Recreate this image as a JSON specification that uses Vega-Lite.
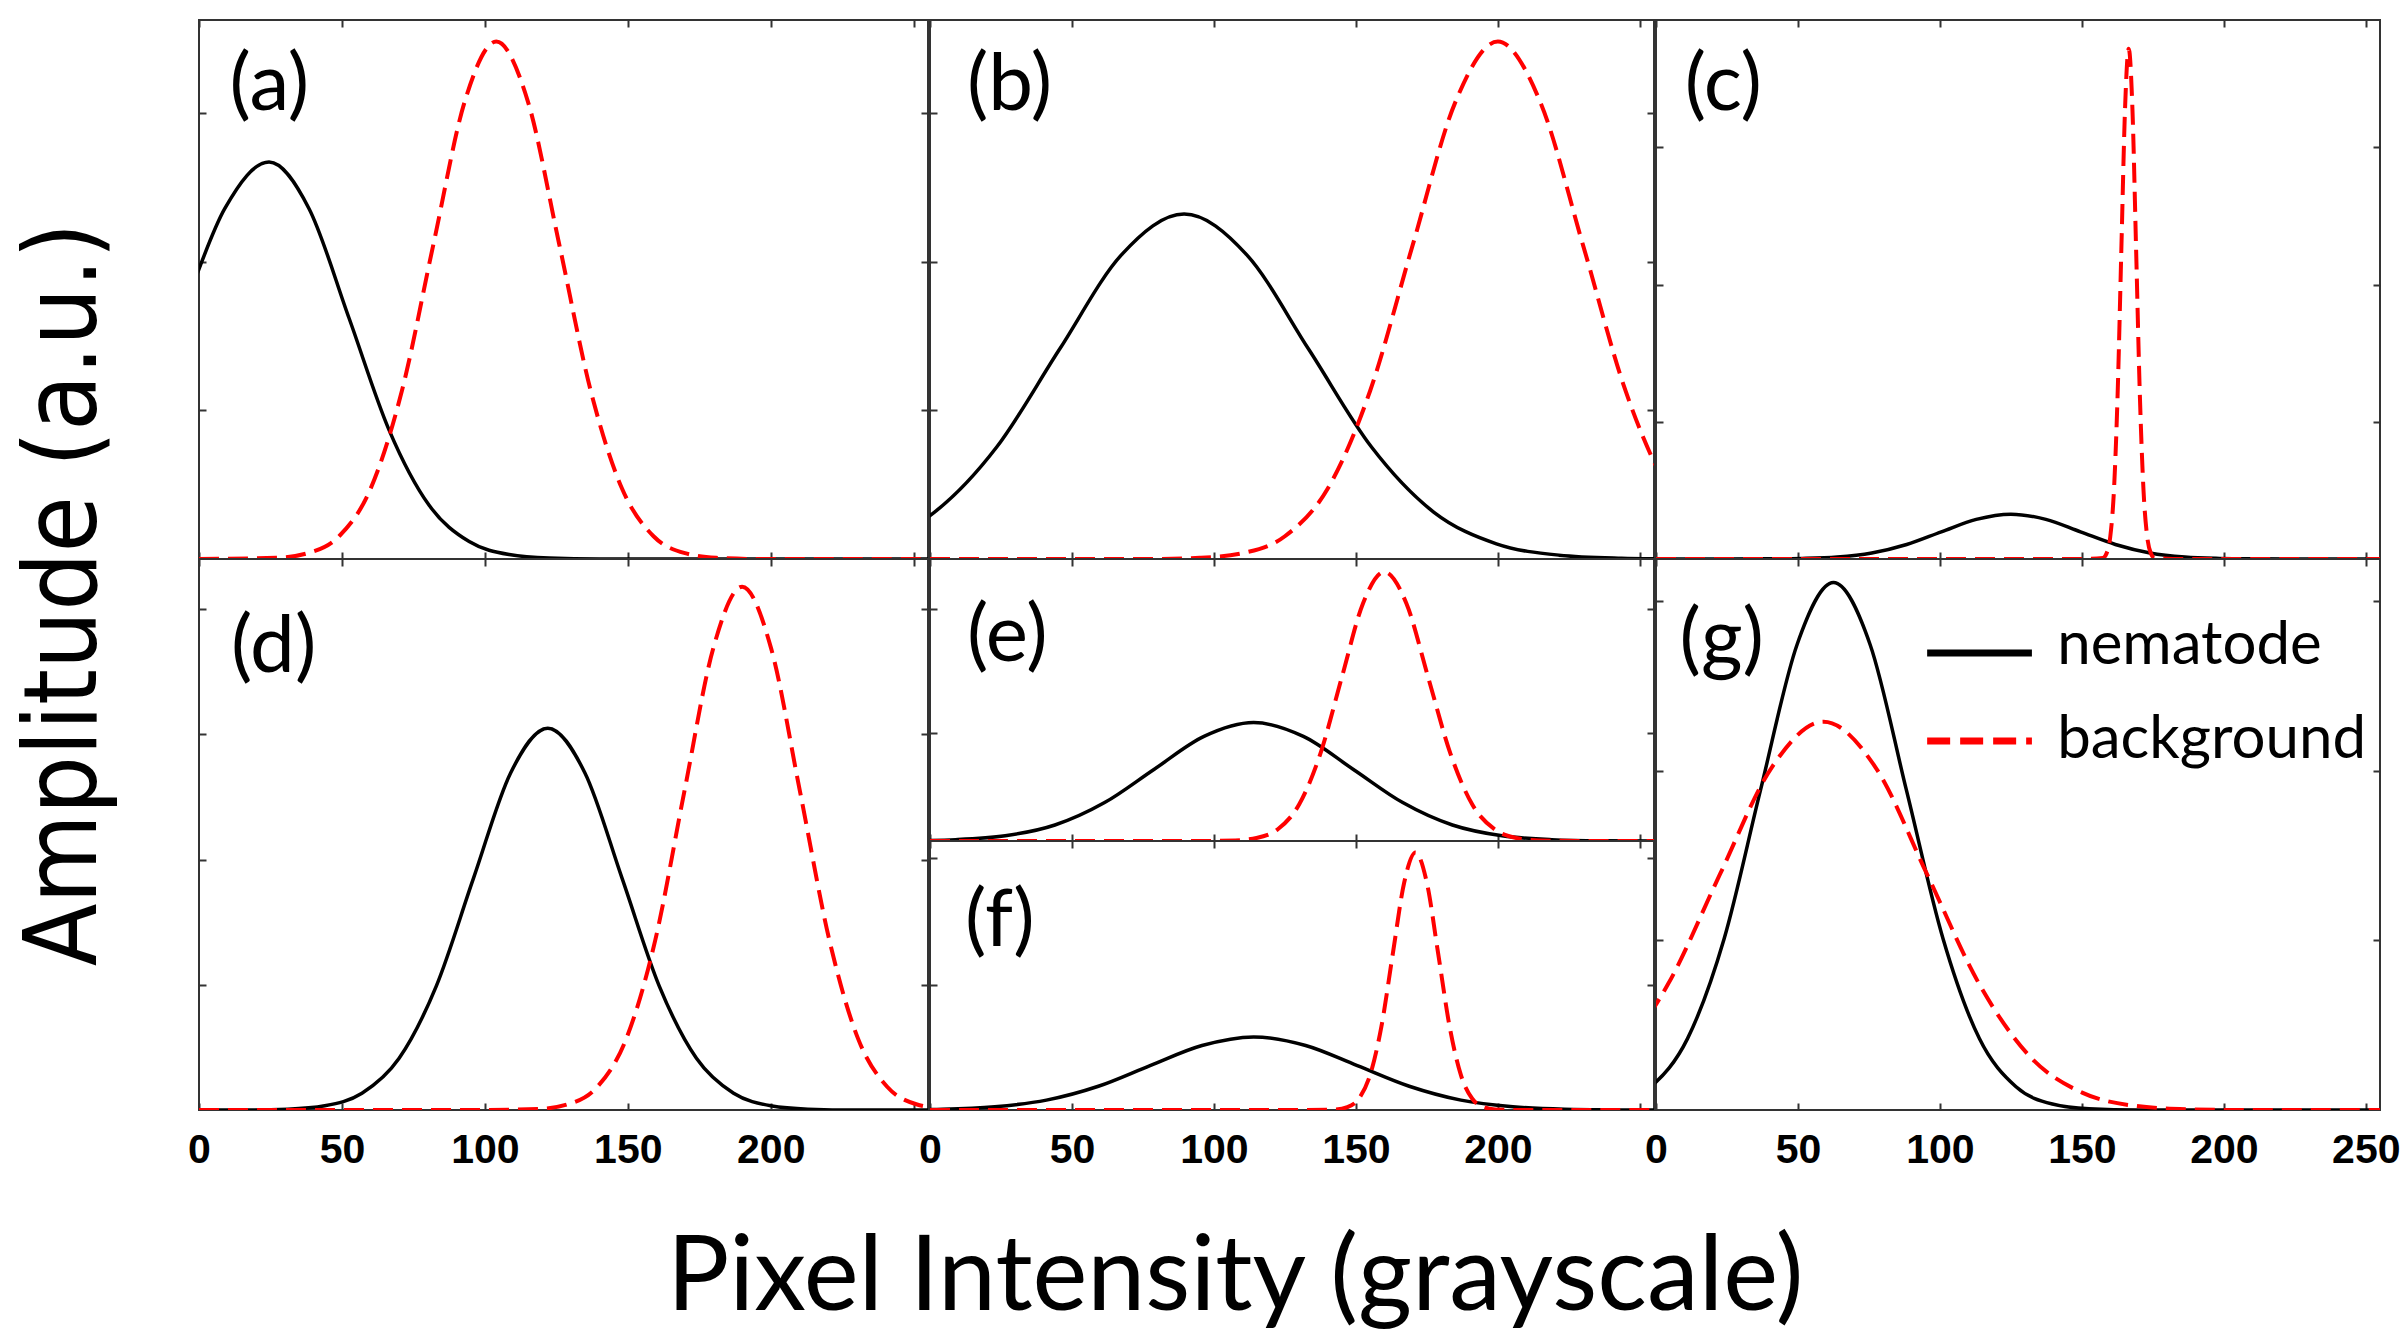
{
  "$schema": "https://vega.github.io/schema/vega-lite/v6.json",
  "background": "white",
  "padding": {"left": 13, "top": 18, "right": 0, "bottom": 0},
  "config": {
    "view": {"stroke": "#333333", "strokeWidth": 2},
    "axis": {"grid": false, "domain": false, "ticks": true, "tickSize": -7, "tickWidth": 2, "tickColor": "#333333",
      "labelFont": "Liberation Sans", "labelFontWeight": "bold", "labelFontSize": 41, "labelColor": "black",
      "labelPadding": 27, "labelFlush": false, "labelOverlap": false},
    "concat": {"spacing": 0}
  },
  "datasets": {
    "a": [
      {"s":"nematode","x":-22,"y":0.867},{"s":"nematode","x":-6.5,"y":1.619},{"s":"nematode","x":9,"y":2.356},{"s":"nematode","x":24.5,"y":2.67},{"s":"nematode","x":38.5,"y":2.356},{"s":"nematode","x":52.5,"y":1.619},{"s":"nematode","x":66.5,"y":0.867},{"s":"nematode","x":80.5,"y":0.361},{"s":"nematode","x":94.5,"y":0.117},{"s":"nematode","x":108.5,"y":0.03},{"s":"nematode","x":122.5,"y":0.006},{"s":"nematode","x":140,"y":0},{"s":"nematode","x":255,"y":0},
      {"s":"background","x":0,"y":0},{"s":"background","x":27,"y":0.008},{"s":"background","x":38,"y":0.039},{"s":"background","x":49,"y":0.153},{"s":"background","x":60,"y":0.472},{"s":"background","x":71,"y":1.133},{"s":"background","x":82,"y":2.117},{"s":"background","x":93,"y":3.08},{"s":"background","x":104,"y":3.48},{"s":"background","x":115,"y":3.08},{"s":"background","x":126,"y":2.117},{"s":"background","x":137,"y":1.133},{"s":"background","x":148,"y":0.472},{"s":"background","x":159,"y":0.153},{"s":"background","x":170,"y":0.039},{"s":"background","x":181,"y":0.008},{"s":"background","x":195,"y":0},{"s":"background","x":255,"y":0}
    ],
    "b": [
      {"s":"nematode","x":-42.5,"y":0.026},{"s":"nematode","x":-20.5,"y":0.102},{"s":"nematode","x":1.5,"y":0.314},{"s":"nematode","x":23.5,"y":0.753},{"s":"nematode","x":45.5,"y":1.407},{"s":"nematode","x":67.5,"y":2.047},{"s":"nematode","x":89.5,"y":2.32},{"s":"nematode","x":111.5,"y":2.047},{"s":"nematode","x":133.5,"y":1.407},{"s":"nematode","x":155.5,"y":0.753},{"s":"nematode","x":177.5,"y":0.314},{"s":"nematode","x":199.5,"y":0.102},{"s":"nematode","x":221.5,"y":0.026},{"s":"nematode","x":243.5,"y":0.005},{"s":"nematode","x":260,"y":0},
      {"s":"background","x":0,"y":0},{"s":"background","x":80,"y":0},{"s":"background","x":95,"y":0.008},{"s":"background","x":110,"y":0.039},{"s":"background","x":125,"y":0.153},{"s":"background","x":140,"y":0.471},{"s":"background","x":155,"y":1.13},{"s":"background","x":170,"y":2.111},{"s":"background","x":185,"y":3.071},{"s":"background","x":200,"y":3.48},{"s":"background","x":215,"y":3.071},{"s":"background","x":230,"y":2.111},{"s":"background","x":245,"y":1.13},{"s":"background","x":260,"y":0.471},{"s":"background","x":275,"y":0.153}
    ],
    "c": [
      {"s":"nematode","x":0,"y":0},{"s":"nematode","x":25,"y":0},{"s":"nematode","x":39.3,"y":0.001},{"s":"nematode","x":51.5,"y":0.004},{"s":"nematode","x":63.8,"y":0.014},{"s":"nematode","x":76,"y":0.044},{"s":"nematode","x":88.3,"y":0.106},{"s":"nematode","x":100.5,"y":0.198},{"s":"nematode","x":112.8,"y":0.289},{"s":"nematode","x":125,"y":0.327},{"s":"nematode","x":137.3,"y":0.289},{"s":"nematode","x":149.5,"y":0.198},{"s":"nematode","x":161.8,"y":0.106},{"s":"nematode","x":174,"y":0.044},{"s":"nematode","x":186.3,"y":0.014},{"s":"nematode","x":198.5,"y":0.004},{"s":"nematode","x":210.8,"y":0.001},{"s":"nematode","x":225,"y":0},{"s":"nematode","x":255,"y":0},
      {"s":"background","x":0,"y":0},{"s":"background","x":150,"y":0},{"s":"background","x":157.4,"y":0.008},{"s":"background","x":158.7,"y":0.041},{"s":"background","x":160,"y":0.163},{"s":"background","x":161.3,"y":0.503},{"s":"background","x":162.6,"y":1.208},{"s":"background","x":163.9,"y":2.256},{"s":"background","x":165.2,"y":3.283},{"s":"background","x":166.5,"y":3.72},{"s":"background","x":167.8,"y":3.283},{"s":"background","x":169.1,"y":2.256},{"s":"background","x":170.4,"y":1.208},{"s":"background","x":171.7,"y":0.503},{"s":"background","x":173,"y":0.163},{"s":"background","x":174.3,"y":0.041},{"s":"background","x":175.6,"y":0.008},{"s":"background","x":185,"y":0},{"s":"background","x":255,"y":0}
    ],
    "d": [
      {"s":"nematode","x":0,"y":0},{"s":"nematode","x":15,"y":0},{"s":"nematode","x":31,"y":0.007},{"s":"nematode","x":44,"y":0.034},{"s":"nematode","x":57,"y":0.134},{"s":"nematode","x":70,"y":0.413},{"s":"nematode","x":83,"y":0.99},{"s":"nematode","x":96,"y":1.85},{"s":"nematode","x":109,"y":2.692},{"s":"nematode","x":122,"y":3.05},{"s":"nematode","x":135,"y":2.692},{"s":"nematode","x":148,"y":1.85},{"s":"nematode","x":161,"y":0.99},{"s":"nematode","x":174,"y":0.413},{"s":"nematode","x":187,"y":0.134},{"s":"nematode","x":200,"y":0.034},{"s":"nematode","x":213,"y":0.007},{"s":"nematode","x":230,"y":0},{"s":"nematode","x":255,"y":0},
      {"s":"background","x":0,"y":0},{"s":"background","x":100,"y":0},{"s":"background","x":119,"y":0.009},{"s":"background","x":129.1,"y":0.046},{"s":"background","x":139.3,"y":0.184},{"s":"background","x":149.4,"y":0.566},{"s":"background","x":159.6,"y":1.357},{"s":"background","x":169.7,"y":2.535},{"s":"background","x":179.9,"y":3.689},{"s":"background","x":190,"y":4.18},{"s":"background","x":200.1,"y":3.689},{"s":"background","x":210.3,"y":2.535},{"s":"background","x":220.5,"y":1.357},{"s":"background","x":230.6,"y":0.566},{"s":"background","x":240.8,"y":0.184},{"s":"background","x":250.9,"y":0.046},{"s":"background","x":261.1,"y":0.009}
    ],
    "e": [
      {"s":"nematode","x":-8.5,"y":0.002},{"s":"nematode","x":9,"y":0.011},{"s":"nematode","x":26.5,"y":0.042},{"s":"nematode","x":44,"y":0.129},{"s":"nematode","x":61.5,"y":0.31},{"s":"nematode","x":79,"y":0.579},{"s":"nematode","x":96.5,"y":0.843},{"s":"nematode","x":114,"y":0.955},{"s":"nematode","x":131.5,"y":0.843},{"s":"nematode","x":149,"y":0.579},{"s":"nematode","x":166.5,"y":0.31},{"s":"nematode","x":184,"y":0.129},{"s":"nematode","x":201.5,"y":0.042},{"s":"nematode","x":219,"y":0.011},{"s":"nematode","x":236.5,"y":0.002},{"s":"nematode","x":255,"y":0},
      {"s":"background","x":0,"y":0},{"s":"background","x":95,"y":0},{"s":"background","x":107.5,"y":0.005},{"s":"background","x":115,"y":0.024},{"s":"background","x":122.5,"y":0.095},{"s":"background","x":130,"y":0.294},{"s":"background","x":137.5,"y":0.705},{"s":"background","x":145,"y":1.316},{"s":"background","x":152.5,"y":1.915},{"s":"background","x":160,"y":2.17},{"s":"background","x":167.8,"y":1.915},{"s":"background","x":175.5,"y":1.316},{"s":"background","x":183.3,"y":0.705},{"s":"background","x":191,"y":0.294},{"s":"background","x":198.8,"y":0.095},{"s":"background","x":206.5,"y":0.024},{"s":"background","x":214.3,"y":0.005},{"s":"background","x":230,"y":0},{"s":"background","x":255,"y":0}
    ],
    "f": [
      {"s":"nematode","x":-13.8,"y":0.001},{"s":"nematode","x":4.5,"y":0.006},{"s":"nematode","x":22.8,"y":0.026},{"s":"nematode","x":41,"y":0.079},{"s":"nematode","x":59.3,"y":0.19},{"s":"nematode","x":77.5,"y":0.355},{"s":"nematode","x":95.8,"y":0.516},{"s":"nematode","x":114,"y":0.585},{"s":"nematode","x":132.3,"y":0.516},{"s":"nematode","x":150.5,"y":0.355},{"s":"nematode","x":168.8,"y":0.19},{"s":"nematode","x":187,"y":0.079},{"s":"nematode","x":205.3,"y":0.026},{"s":"nematode","x":223.5,"y":0.006},{"s":"nematode","x":241.8,"y":0.001},{"s":"nematode","x":255,"y":0},
      {"s":"background","x":0,"y":0},{"s":"background","x":130,"y":0},{"s":"background","x":143,"y":0.005},{"s":"background","x":147,"y":0.023},{"s":"background","x":151,"y":0.09},{"s":"background","x":155,"y":0.279},{"s":"background","x":159,"y":0.669},{"s":"background","x":163,"y":1.249},{"s":"background","x":167,"y":1.818},{"s":"background","x":171,"y":2.06},{"s":"background","x":175,"y":1.818},{"s":"background","x":179,"y":1.249},{"s":"background","x":183,"y":0.669},{"s":"background","x":187,"y":0.279},{"s":"background","x":191,"y":0.09},{"s":"background","x":195,"y":0.023},{"s":"background","x":199,"y":0.005},{"s":"background","x":210,"y":0},{"s":"background","x":255,"y":0}
    ],
    "g": [
      {"s":"nematode","x":-14.6,"y":0.035},{"s":"nematode","x":-1.8,"y":0.137},{"s":"nematode","x":11.1,"y":0.421},{"s":"nematode","x":24,"y":1.01},{"s":"nematode","x":36.8,"y":1.886},{"s":"nematode","x":49.7,"y":2.745},{"s":"nematode","x":62.5,"y":3.11},{"s":"nematode","x":75.4,"y":2.745},{"s":"nematode","x":88.2,"y":1.886},{"s":"nematode","x":101.1,"y":1.01},{"s":"nematode","x":113.9,"y":0.421},{"s":"nematode","x":126.8,"y":0.137},{"s":"nematode","x":139.6,"y":0.035},{"s":"nematode","x":152.5,"y":0.007},{"s":"nematode","x":170,"y":0},{"s":"nematode","x":255,"y":0},
      {"s":"background","x":-32.3,"y":0.101},{"s":"background","x":-14,"y":0.31},{"s":"background","x":4.3,"y":0.744},{"s":"background","x":22.5,"y":1.389},{"s":"background","x":40.8,"y":2.021},{"s":"background","x":59,"y":2.29},{"s":"background","x":77.3,"y":2.021},{"s":"background","x":95.5,"y":1.389},{"s":"background","x":113.8,"y":0.744},{"s":"background","x":132,"y":0.31},{"s":"background","x":150.3,"y":0.101},{"s":"background","x":168.5,"y":0.025},{"s":"background","x":186.8,"y":0.005},{"s":"background","x":205,"y":0},{"s":"background","x":255,"y":0}
    ]
  },
  "title": {"text": "Pixel Intensity (grayscale)", "orient": "bottom", "font": "Lato", "fontSize": 104, "fontWeight": "normal", "color": "black", "offset": 57, "anchor": "middle", "dx": 28},
  "vconcat": [
    {
      "title": {"text": "Amplitude (a.u.)", "orient": "left", "font": "DejaVu Sans Condensed", "fontSize": 102, "fontWeight": "normal", "color": "black", "offset": 70, "anchor": "middle"},
      "spacing": -15,
      "hconcat": [
        {
          "bounds": "flush", "spacing": 0,
          "vconcat": [
            {
              "width": 729, "height": 539, "data": {"name": "a"},
              "resolve": {"axis": {"x": "independent", "y": "independent"}},
              "layer": [
                {"transform": [{"filter": "datum.s == 'nematode'"}],
                 "mark": {"type": "line", "color": "black", "strokeWidth": 3.5, "interpolate": "monotone", "clip": true},
                 "encoding": {
                   "x": {"field": "x", "type": "quantitative", "scale": {"domain": [0, 255], "nice": false, "zero": false}, "axis": {"orient": "bottom", "title": null, "values": [0, 50, 100, 150, 200, 250], "labels": false}},
                   "y": {"field": "y", "type": "quantitative", "scale": {"domain": [0, 3.625], "nice": false}, "axis": {"orient": "left", "title": null, "values": [1, 2, 3], "labels": false}}}},
                {"transform": [{"filter": "datum.s == 'background'"}],
                 "mark": {"type": "line", "color": "#ff0000", "strokeWidth": 4, "strokeDash": [20, 9], "interpolate": "monotone", "clip": true},
                 "encoding": {
                   "x": {"field": "x", "type": "quantitative", "scale": {"domain": [0, 255], "nice": false, "zero": false}, "axis": {"orient": "top", "title": null, "values": [0, 50, 100, 150, 200, 250], "labels": false}},
                   "y": {"field": "y", "type": "quantitative", "scale": {"domain": [0, 3.625], "nice": false}, "axis": {"orient": "right", "title": null, "values": [1, 2, 3], "labels": false}}}},
                {"data": {"values": [{}]},
                 "mark": {"type": "text", "text": "(a)", "font": "Lato", "fontSize": 80, "align": "left", "baseline": "middle", "color": "black"},
                 "encoding": {"x": {"datum": 10.7, "type": "quantitative", "axis": null}, "y": {"datum": 3.18, "type": "quantitative", "axis": null}}}
              ]
            },
            {
              "width": 729, "height": 551, "data": {"name": "d"},
              "resolve": {"axis": {"x": "independent", "y": "independent"}},
              "layer": [
                {"transform": [{"filter": "datum.s == 'nematode'"}],
                 "mark": {"type": "line", "color": "black", "strokeWidth": 3.5, "interpolate": "monotone", "clip": true},
                 "encoding": {
                   "x": {"field": "x", "type": "quantitative", "scale": {"domain": [0, 255], "nice": false, "zero": false}, "axis": {"orient": "bottom", "title": null, "values": [0, 50, 100, 150, 200, 250], "labelExpr": "datum.value == 250 ? '' : datum.label"}},
                   "y": {"field": "y", "type": "quantitative", "scale": {"domain": [0, 4.401], "nice": false}, "axis": {"orient": "left", "title": null, "values": [1, 2, 3, 4], "labels": false}}}},
                {"transform": [{"filter": "datum.s == 'background'"}],
                 "mark": {"type": "line", "color": "#ff0000", "strokeWidth": 4, "strokeDash": [20, 9], "interpolate": "monotone", "clip": true},
                 "encoding": {
                   "x": {"field": "x", "type": "quantitative", "scale": {"domain": [0, 255], "nice": false, "zero": false}, "axis": {"orient": "top", "title": null, "values": [0, 50, 100, 150, 200, 250], "labels": false}},
                   "y": {"field": "y", "type": "quantitative", "scale": {"domain": [0, 4.401], "nice": false}, "axis": {"orient": "right", "title": null, "values": [1, 2, 3, 4], "labels": false}}}},
                {"data": {"values": [{}]},
                 "mark": {"type": "text", "text": "(d)", "font": "Lato", "fontSize": 80, "align": "left", "baseline": "middle", "color": "black"},
                 "encoding": {"x": {"datum": 11.2, "type": "quantitative", "axis": null}, "y": {"datum": 3.69, "type": "quantitative", "axis": null}}}
              ]
            }
          ]
        },
        {
          "bounds": "flush", "spacing": 0,
          "vconcat": [
            {
              "width": 724, "height": 539, "data": {"name": "b"},
              "resolve": {"axis": {"x": "independent", "y": "independent"}},
              "layer": [
                {"transform": [{"filter": "datum.s == 'nematode'"}],
                 "mark": {"type": "line", "color": "black", "strokeWidth": 3.5, "interpolate": "monotone", "clip": true},
                 "encoding": {
                   "x": {"field": "x", "type": "quantitative", "scale": {"domain": [0, 255], "nice": false, "zero": false}, "axis": {"orient": "bottom", "title": null, "values": [0, 50, 100, 150, 200, 250], "labels": false}},
                   "y": {"field": "y", "type": "quantitative", "scale": {"domain": [0, 3.625], "nice": false}, "axis": {"orient": "left", "title": null, "values": [1, 2, 3], "labels": false}}}},
                {"transform": [{"filter": "datum.s == 'background'"}],
                 "mark": {"type": "line", "color": "#ff0000", "strokeWidth": 4, "strokeDash": [20, 9], "interpolate": "monotone", "clip": true},
                 "encoding": {
                   "x": {"field": "x", "type": "quantitative", "scale": {"domain": [0, 255], "nice": false, "zero": false}, "axis": {"orient": "top", "title": null, "values": [0, 50, 100, 150, 200, 250], "labels": false}},
                   "y": {"field": "y", "type": "quantitative", "scale": {"domain": [0, 3.625], "nice": false}, "axis": {"orient": "right", "title": null, "values": [1, 2, 3], "labels": false}}}},
                {"data": {"values": [{}]},
                 "mark": {"type": "text", "text": "(b)", "font": "Lato", "fontSize": 80, "align": "left", "baseline": "middle", "color": "black"},
                 "encoding": {"x": {"datum": 13, "type": "quantitative", "axis": null}, "y": {"datum": 3.18, "type": "quantitative", "axis": null}}}
              ]
            },
            {
              "width": 724, "height": 282, "data": {"name": "e"},
              "resolve": {"axis": {"x": "independent", "y": "independent"}},
              "layer": [
                {"transform": [{"filter": "datum.s == 'nematode'"}],
                 "mark": {"type": "line", "color": "black", "strokeWidth": 3.5, "interpolate": "monotone", "clip": true},
                 "encoding": {
                   "x": {"field": "x", "type": "quantitative", "scale": {"domain": [0, 255], "nice": false, "zero": false}, "axis": {"orient": "bottom", "title": null, "values": [0, 50, 100, 150, 200, 250], "labels": false}},
                   "y": {"field": "y", "type": "quantitative", "scale": {"domain": [0, 2.274], "nice": false}, "axis": {"orient": "left", "title": null, "values": [0.871, 1.871], "labels": false}}}},
                {"transform": [{"filter": "datum.s == 'background'"}],
                 "mark": {"type": "line", "color": "#ff0000", "strokeWidth": 4, "strokeDash": [20, 9], "interpolate": "monotone", "clip": true},
                 "encoding": {
                   "x": {"field": "x", "type": "quantitative", "scale": {"domain": [0, 255], "nice": false, "zero": false}, "axis": {"orient": "top", "title": null, "values": [0, 50, 100, 150, 200, 250], "labels": false}},
                   "y": {"field": "y", "type": "quantitative", "scale": {"domain": [0, 2.274], "nice": false}, "axis": {"orient": "right", "title": null, "values": [0.871, 1.871], "labels": false}}}},
                {"data": {"values": [{}]},
                 "mark": {"type": "text", "text": "(e)", "font": "Lato", "fontSize": 80, "align": "left", "baseline": "middle", "color": "black"},
                 "encoding": {"x": {"datum": 13, "type": "quantitative", "axis": null}, "y": {"datum": 1.645, "type": "quantitative", "axis": null}}}
              ]
            },
            {
              "width": 724, "height": 269, "data": {"name": "f"},
              "resolve": {"axis": {"x": "independent", "y": "independent"}},
              "layer": [
                {"transform": [{"filter": "datum.s == 'nematode'"}],
                 "mark": {"type": "line", "color": "black", "strokeWidth": 3.5, "interpolate": "monotone", "clip": true},
                 "encoding": {
                   "x": {"field": "x", "type": "quantitative", "scale": {"domain": [0, 255], "nice": false, "zero": false}, "axis": {"orient": "bottom", "title": null, "values": [0, 50, 100, 150, 200, 250], "labelExpr": "datum.value == 250 ? '' : datum.label"}},
                   "y": {"field": "y", "type": "quantitative", "scale": {"domain": [0, 2.152], "nice": false}, "axis": {"orient": "left", "title": null, "values": [1, 2.02], "labels": false}}}},
                {"transform": [{"filter": "datum.s == 'background'"}],
                 "mark": {"type": "line", "color": "#ff0000", "strokeWidth": 4, "strokeDash": [20, 9], "interpolate": "monotone", "clip": true},
                 "encoding": {
                   "x": {"field": "x", "type": "quantitative", "scale": {"domain": [0, 255], "nice": false, "zero": false}, "axis": {"orient": "top", "title": null, "values": [0, 50, 100, 150, 200, 250], "labels": false}},
                   "y": {"field": "y", "type": "quantitative", "scale": {"domain": [0, 2.152], "nice": false}, "axis": {"orient": "right", "title": null, "values": [1, 2.02], "labels": false}}}},
                {"data": {"values": [{}]},
                 "mark": {"type": "text", "text": "(f)", "font": "Lato", "fontSize": 80, "align": "left", "baseline": "middle", "color": "black"},
                 "encoding": {"x": {"datum": 12.3, "type": "quantitative", "axis": null}, "y": {"datum": 1.508, "type": "quantitative", "axis": null}}}
              ]
            }
          ]
        },
        {
          "bounds": "flush", "spacing": 0,
          "vconcat": [
            {
              "width": 724, "height": 539, "data": {"name": "c"},
              "resolve": {"axis": {"x": "independent", "y": "independent"}},
              "layer": [
                {"transform": [{"filter": "datum.s == 'nematode'"}],
                 "mark": {"type": "line", "color": "black", "strokeWidth": 3.5, "interpolate": "monotone", "clip": true},
                 "encoding": {
                   "x": {"field": "x", "type": "quantitative", "scale": {"domain": [0, 255], "nice": false, "zero": false}, "axis": {"orient": "bottom", "title": null, "values": [0, 50, 100, 150, 200, 250], "labels": false}},
                   "y": {"field": "y", "type": "quantitative", "scale": {"domain": [0, 3.929], "nice": false}, "axis": {"orient": "left", "title": null, "values": [1, 2, 3], "labels": false}}}},
                {"transform": [{"filter": "datum.s == 'background'"}],
                 "mark": {"type": "line", "color": "#ff0000", "strokeWidth": 4, "strokeDash": [20, 9], "interpolate": "monotone", "clip": true},
                 "encoding": {
                   "x": {"field": "x", "type": "quantitative", "scale": {"domain": [0, 255], "nice": false, "zero": false}, "axis": {"orient": "top", "title": null, "values": [0, 50, 100, 150, 200, 250], "labels": false}},
                   "y": {"field": "y", "type": "quantitative", "scale": {"domain": [0, 3.929], "nice": false}, "axis": {"orient": "right", "title": null, "values": [1, 2, 3], "labels": false}}}},
                {"data": {"values": [{}]},
                 "mark": {"type": "text", "text": "(c)", "font": "Lato", "fontSize": 80, "align": "left", "baseline": "middle", "color": "black"},
                 "encoding": {"x": {"datum": 10.1, "type": "quantitative", "axis": null}, "y": {"datum": 3.45, "type": "quantitative", "axis": null}}}
              ]
            },
            {
              "width": 724, "height": 551, "data": {"name": "g"},
              "resolve": {"axis": {"x": "independent", "y": "independent"}},
              "layer": [
                {"transform": [{"filter": "datum.s == 'nematode'"}],
                 "mark": {"type": "line", "color": "black", "strokeWidth": 3.5, "interpolate": "monotone", "clip": true},
                 "encoding": {
                   "x": {"field": "x", "type": "quantitative", "scale": {"domain": [0, 255], "nice": false, "zero": false}, "axis": {"orient": "bottom", "title": null, "values": [0, 50, 100, 150, 200, 250]}},
                   "y": {"field": "y", "type": "quantitative", "scale": {"domain": [0, 3.249], "nice": false}, "axis": {"orient": "left", "title": null, "values": [1, 2, 3], "labels": false}}}},
                {"transform": [{"filter": "datum.s == 'background'"}],
                 "mark": {"type": "line", "color": "#ff0000", "strokeWidth": 4, "strokeDash": [20, 9], "interpolate": "monotone", "clip": true},
                 "encoding": {
                   "x": {"field": "x", "type": "quantitative", "scale": {"domain": [0, 255], "nice": false, "zero": false}, "axis": {"orient": "top", "title": null, "values": [0, 50, 100, 150, 200, 250], "labels": false}},
                   "y": {"field": "y", "type": "quantitative", "scale": {"domain": [0, 3.249], "nice": false}, "axis": {"orient": "right", "title": null, "values": [1, 2, 3], "labels": false}}}},
                {"data": {"values": [{}]},
                 "mark": {"type": "text", "text": "(g)", "font": "Lato", "fontSize": 80, "align": "left", "baseline": "middle", "color": "black"},
                 "encoding": {"x": {"datum": 8.3, "type": "quantitative", "axis": null}, "y": {"datum": 2.765, "type": "quantitative", "axis": null}}},
                {"data": {"values": [{}]},
                 "mark": {"type": "rule", "color": "black", "strokeWidth": 7},
                 "encoding": {"x": {"datum": 95.5, "type": "quantitative", "axis": null}, "x2": {"datum": 132.4}, "y": {"datum": 2.695, "type": "quantitative", "axis": null}}},
                {"data": {"values": [{}]},
                 "mark": {"type": "rule", "color": "#ff0000", "strokeWidth": 7, "strokeDash": [23, 10]},
                 "encoding": {"x": {"datum": 95.5, "type": "quantitative", "axis": null}, "x2": {"datum": 132.4}, "y": {"datum": 2.176, "type": "quantitative", "axis": null}}},
                {"data": {"values": [{}]},
                 "mark": {"type": "text", "text": "nematode", "font": "Lato", "fontSize": 60, "align": "left", "baseline": "alphabetic", "color": "black"},
                 "encoding": {"x": {"datum": 141.3, "type": "quantitative", "axis": null}, "y": {"datum": 2.627, "type": "quantitative", "axis": null}}},
                {"data": {"values": [{}]},
                 "mark": {"type": "text", "text": "background", "font": "Lato", "fontSize": 60, "align": "left", "baseline": "alphabetic", "color": "black"},
                 "encoding": {"x": {"datum": 141.3, "type": "quantitative", "axis": null}, "y": {"datum": 2.075, "type": "quantitative", "axis": null}}}
              ]
            }
          ]
        }
      ]
    }
  ]
}
